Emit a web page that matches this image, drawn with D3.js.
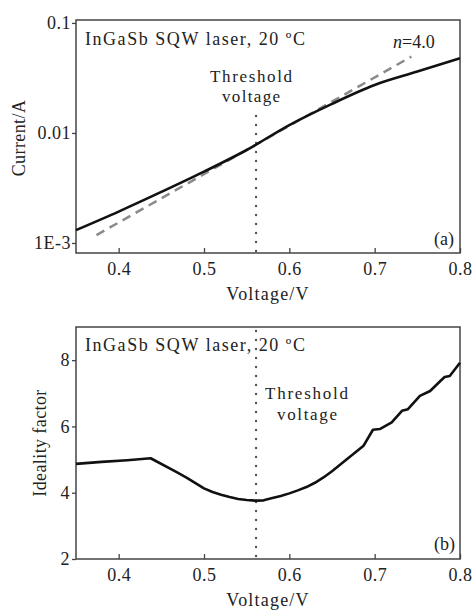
<!DOCTYPE html>
<html>
<head>
<meta charset="utf-8">
<script src="https://d3js.org/d3.v7.min.js"></script>
<style>
  body { margin: 0; background: #fff; }
  svg text { font-family: "Liberation Serif", "Times New Roman", serif; fill: #222; }
  .frame { fill: none; stroke: #444; stroke-width: 1.5; }
  .axis path { display: none; }
  .axis line { stroke: #444; stroke-width: 1.3; }
  .axis text { font-size: 18px; letter-spacing: 0.5px; fill: #222; }
</style>
</head>
<body>
<svg id="chart" width="476" height="610"></svg>
<script>
  // données
  const voltIV = [0.35, 0.40, 0.45, 0.50, 0.55, 0.60, 0.65, 0.70, 0.75, 0.80];
  const current = [1.31e-3, 1.93e-3, 2.91e-3, 4.45e-3, 7.0e-3, 1.18e-2, 1.84e-2, 2.73e-2, 3.61e-2, 4.77e-2];
  const fitVolt = [0.374, 0.743];
  const fitCurrent = [1.18e-3, 4.94e-2];
  const voltN = [0.35, 0.38, 0.41, 0.4375, 0.468, 0.48, 0.50, 0.51, 0.52, 0.53, 0.54, 0.55, 0.56, 0.57,
                 0.579, 0.59, 0.60, 0.61, 0.62, 0.63, 0.64, 0.65, 0.667,
                 0.687, 0.698, 0.706, 0.720, 0.732, 0.739, 0.753, 0.765, 0.777, 0.782, 0.788, 0.80];
  const ideality = [4.87, 4.93, 4.98, 5.04, 4.62, 4.45, 4.13, 4.02, 3.94, 3.87, 3.81, 3.78, 3.76, 3.77,
                    3.83, 3.9, 3.98, 4.07, 4.17, 4.3, 4.46, 4.65, 5.0,
                    5.42, 5.9, 5.92, 6.12, 6.47, 6.52, 6.92, 7.07, 7.37, 7.49, 7.52, 7.92];
  const thresholdV = 0.561;
  const xTicks = [0.4, 0.5, 0.6, 0.7, 0.8];
  const yTicksA = [1e-3, 1e-2, 1e-1];
  const yTickLabelsA = ["1E-3", "0.01", "0.1"];
  const yTicksB = [2, 4, 6, 8];

  const svg = d3.select("#chart");
  const left = 76, right = 460;

  const x = d3.scaleLinear().domain([0.35, 0.8]).range([left, right]);

  // ---------- (a) courant ----------
  const topA = 20, botA = 253;
  const yA = d3.scaleLog().domain([8.11e-4, 0.1063]).range([botA, topA]);

  svg.append("g").attr("class", "axis")
    .attr("transform", `translate(0,${botA})`)
    .call(d3.axisBottom(x).tickValues(xTicks).tickFormat(d3.format(".1f"))
      .tickSizeInner(-5).tickSizeOuter(0).tickPadding(9));
  svg.append("g").attr("class", "axis")
    .attr("transform", `translate(${left},0)`)
    .call(d3.axisLeft(yA).tickValues(yTicksA).tickFormat((d, i) => yTickLabelsA[i])
      .tickSizeInner(4).tickSizeOuter(0).tickPadding(1));

  svg.append("rect").attr("class", "frame")
    .attr("x", left).attr("y", topA).attr("width", right - left).attr("height", botA - topA);

  svg.append("line")
    .attr("x1", x(thresholdV)).attr("x2", x(thresholdV))
    .attr("y1", 116).attr("y2", botA)
    .attr("stroke", "#555").attr("stroke-width", 2.4)
    .attr("stroke-linecap", "round").attr("stroke-dasharray", "0,9");

  const lineA = d3.line().x(d => x(d[0])).y(d => yA(d[1])).curve(d3.curveMonotoneX);
  svg.append("path")
    .attr("d", lineA(fitVolt.map((v, i) => [v, fitCurrent[i]])))
    .attr("fill", "none").attr("stroke", "#8a8a8a").attr("stroke-width", 2.5)
    .attr("stroke-dasharray", "9,6");
  svg.append("path")
    .attr("d", lineA(voltIV.map((v, i) => [v, current[i]])))
    .attr("fill", "none").attr("stroke", "#111").attr("stroke-width", 2.6);

  svg.append("text").attr("x", 85).attr("y", 45).attr("font-size", 18)
    .attr("textLength", 220).attr("lengthAdjust", "spacing")
    .text("InGaSb  SQW  laser,  20 ºC");
  svg.append("text").attr("x", 210).attr("y", 82).attr("font-size", 17)
    .attr("textLength", 82).attr("lengthAdjust", "spacing").text("Threshold");
  svg.append("text").attr("x", 222).attr("y", 102).attr("font-size", 17)
    .attr("textLength", 58).attr("lengthAdjust", "spacing").text("voltage");
  const nLab = svg.append("text").attr("x", 393).attr("y", 48).attr("font-size", 18);
  nLab.append("tspan").attr("font-style", "italic").text("n");
  nLab.append("tspan").text("=4.0");
  svg.append("text").attr("x", 454).attr("y", 245).attr("font-size", 18)
    .attr("text-anchor", "end").text("(a)");

  svg.append("text").attr("x", 268).attr("y", 300).attr("font-size", 18)
    .attr("text-anchor", "middle").attr("letter-spacing", 1.2).text("Voltage/V");
  svg.append("text").attr("transform", "translate(25,138) rotate(-90)")
    .attr("font-size", 18).attr("text-anchor", "middle").attr("letter-spacing", 0.4)
    .text("Current/A");

  // ---------- (b) facteur d'idéalité ----------
  const topB = 327, botB = 559;
  const yB = d3.scaleLinear().domain([2, 9]).range([botB, topB]);

  svg.append("g").attr("class", "axis")
    .attr("transform", `translate(0,${botB})`)
    .call(d3.axisBottom(x).tickValues(xTicks).tickFormat(d3.format(".1f"))
      .tickSizeInner(-5).tickSizeOuter(0).tickPadding(9));
  svg.append("g").attr("class", "axis")
    .attr("transform", `translate(${left},0)`)
    .call(d3.axisLeft(yB).tickValues(yTicksB).tickFormat(d3.format("d"))
      .tickSizeInner(4).tickSizeOuter(0).tickPadding(2));

  svg.append("rect").attr("class", "frame")
    .attr("x", left).attr("y", topB).attr("width", right - left).attr("height", botB - topB);

  svg.append("line")
    .attr("x1", x(thresholdV)).attr("x2", x(thresholdV))
    .attr("y1", 331).attr("y2", botB - 2)
    .attr("stroke", "#555").attr("stroke-width", 2.4)
    .attr("stroke-linecap", "round").attr("stroke-dasharray", "0,9");

  const lineB = d3.line().x(d => x(d[0])).y(d => yB(d[1]));
  svg.append("path")
    .attr("d", lineB(voltN.map((v, i) => [v, ideality[i]])))
    .attr("fill", "none").attr("stroke", "#111").attr("stroke-width", 2.6)
    .attr("stroke-linejoin", "round");

  svg.append("text").attr("x", 85).attr("y", 351).attr("font-size", 18)
    .attr("textLength", 220).attr("lengthAdjust", "spacing")
    .text("InGaSb  SQW  laser,  20 ºC");
  svg.append("text").attr("x", 265).attr("y", 399).attr("font-size", 17)
    .attr("textLength", 83).attr("lengthAdjust", "spacing").text("Threshold");
  svg.append("text").attr("x", 277).attr("y", 420).attr("font-size", 17)
    .attr("textLength", 60).attr("lengthAdjust", "spacing").text("voltage");
  svg.append("text").attr("x", 455).attr("y", 550).attr("font-size", 18)
    .attr("text-anchor", "end").text("(b)");

  svg.append("text").attr("x", 268).attr("y", 606).attr("font-size", 18)
    .attr("text-anchor", "middle").attr("letter-spacing", 1.2).text("Voltage/V");
  svg.append("text").attr("transform", "translate(46,443) rotate(-90)")
    .attr("font-size", 18).attr("text-anchor", "middle").attr("letter-spacing", 0.4)
    .text("Ideality factor");
</script>
</body>
</html>
